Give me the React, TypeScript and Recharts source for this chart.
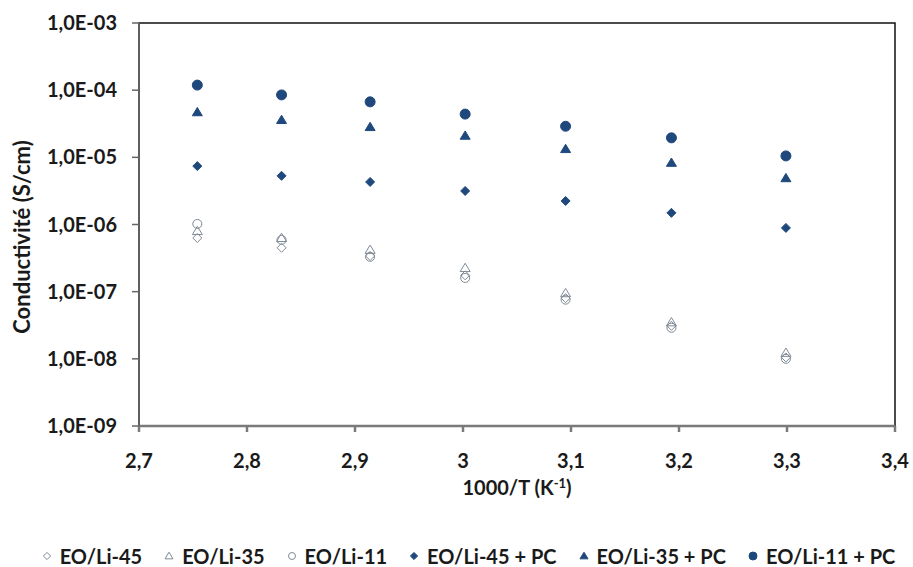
import React from "react";
import { ScatterChart, Scatter, XAxis, YAxis, Legend, ReferenceArea, Label } from "recharts";

const xValues = [2.754, 2.832, 2.914, 3.002, 3.095, 3.193, 3.299];
const eoLi45 = [6.3e-7, 4.5e-7, 3.4e-7, 1.75e-7, 8.0e-8, 3.1e-8, 1.05e-8];
const eoLi35 = [8.0e-7, 6.3e-7, 4.2e-7, 2.25e-7, 9.5e-8, 3.5e-8, 1.23e-8];
const eoLi11 = [1.02e-6, 5.9e-7, 3.3e-7, 1.6e-7, 7.6e-8, 2.9e-8, 1.0e-8];
const eoLi45PC = [7.4e-6, 5.3e-6, 4.3e-6, 3.16e-6, 2.24e-6, 1.49e-6, 8.9e-7];
const eoLi35PC = [4.7e-5, 3.6e-5, 2.83e-5, 2.1e-5, 1.33e-5, 8.3e-6, 4.9e-6];
const eoLi11PC = [1.19e-4, 8.5e-5, 6.7e-5, 4.4e-5, 2.9e-5, 1.95e-5, 1.05e-5];

const xTicks = [2.7, 2.8, 2.9, 3.0, 3.1, 3.2, 3.3, 3.4];
const xTickLabels = ["2,7", "2,8", "2,9", "3", "3,1", "3,2", "3,3", "3,4"];
const yTicks = [1e-9, 1e-8, 1e-7, 1e-6, 1e-5, 1e-4, 1e-3];
const yTickLabels = ["1,0E-09", "1,0E-08", "1,0E-07", "1,0E-06", "1,0E-05", "1,0E-04", "1,0E-03"];

const NAVY = "#1F497D";
const GRAY = "#7F8A96";
const TEXT = "#1a1a1a";
const FONT = "Lato, 'Liberation Sans', sans-serif";

const toData = (ys: number[]) => xValues.map((x, i) => ({ x, y: ys[i] }));

const series = [
  { name: "EO/Li-45", data: eoLi45, shape: "diamond", filled: false },
  { name: "EO/Li-35", data: eoLi35, shape: "triangle", filled: false },
  { name: "EO/Li-11", data: eoLi11, shape: "circle", filled: false },
  { name: "EO/Li-45 + PC", data: eoLi45PC, shape: "diamond", filled: true },
  { name: "EO/Li-35 + PC", data: eoLi35PC, shape: "triangle", filled: true },
  { name: "EO/Li-11 + PC", data: eoLi11PC, shape: "circle", filled: true },
];

const markerEl = (shape: string, filled: boolean, cx: number, cy: number, s: number) => {
  const fill = filled ? NAVY : "#fff";
  const stroke = filled ? NAVY : GRAY;
  if (shape === "circle")
    return <circle cx={cx} cy={cy} r={filled ? s : s - 0.5} fill={fill} fillOpacity={filled ? 1 : 0} stroke={stroke} strokeWidth={1} />;
  if (shape === "triangle") {
    const h = s * 0.95;
    return (
      <polygon
        points={`${cx},${cy - h} ${cx + s},${cy + h * 0.75} ${cx - s},${cy + h * 0.75}`}
        fill={fill}
        fillOpacity={filled ? 1 : 0}
        stroke={stroke}
        strokeWidth={1}
      />
    );
  }
  const d = s * 0.9;
  return (
    <polygon
      points={`${cx},${cy - d} ${cx + d},${cy} ${cx},${cy + d} ${cx - d},${cy}`}
      fill={fill}
      fillOpacity={filled ? 1 : 0}
      stroke={stroke}
      strokeWidth={1}
    />
  );
};

const makeShape = (shape: string, filled: boolean) => (props: any) => {
  const { cx, cy } = props;
  if (cx == null || cy == null) return <g />;
  return markerEl(shape, filled, cx, cy, 5);
};

const LegendContent = () => (
  <div
    style={{
      display: "flex",
      flexWrap: "nowrap",
      justifyContent: "center",
      alignItems: "center",
      fontFamily: FONT,
      fontWeight: 700,
      fontSize: 20,
      lineHeight: "22px",
      color: TEXT,
      gap: 22,
      paddingLeft: 24,
      whiteSpace: "nowrap",
    }}
  >
    {series.map((s) => (
      <div key={s.name} style={{ display: "flex", alignItems: "center", flexShrink: 0 }}>
        <svg width={10} height={10} style={{ marginRight: 8 }}>
          {markerEl(s.shape, s.filled, 5, 5, 4)}
        </svg>
        <span>{s.name}</span>
      </div>
    ))}
  </div>
);

const XTitle = (props: any) => {
  const vb = props.viewBox || {};
  return (
    <text
      x={vb.x + vb.width / 2}
      y={vb.y + 69}
      textAnchor="middle"
      fill={TEXT}
      fontFamily={FONT}
      fontWeight={700}
      fontSize={20}
    >
      1000/T (K<tspan dy={-7} fontSize={13}>-1</tspan>
      <tspan dy={7}>)</tspan>
    </text>
  );
};

const YTitle = () => (
  <text
    x={0}
    y={0}
    transform="translate(30, 237) rotate(-90)"
    textAnchor="middle"
    fill={TEXT}
    fontFamily={FONT}
    fontWeight={700}
    fontSize={22}
  >
    Conductivité (S/cm)
  </text>
);

export default function App() {
  return (
    <div style={{ position: "absolute", left: 0, top: 0, width: 913, height: 567, background: "#fff" }}>
      <ScatterChart width={913} height={567} margin={{ top: 23, right: 18, bottom: 0, left: 0 }}>
        <ReferenceArea
          x1={2.7}
          x2={3.4}
          y1={1e-9}
          y2={1e-3}
          fill="none"
          stroke="#111"
          strokeWidth={1.5}
          ifOverflow="visible"
        />
        <XAxis
          type="number"
          dataKey="x"
          domain={[2.7, 3.4]}
          ticks={xTicks}
          allowDataOverflow
          height={119}
          tickSize={6}
          tickMargin={22}
          stroke="#7a7a7a"
          strokeWidth={2.5}
          tick={{ fill: TEXT, fontFamily: FONT, fontWeight: 700, fontSize: 20 }}
          tickFormatter={(v: number) => xTickLabels[xTicks.findIndex((t) => Math.abs(t - v) < 1e-6)] ?? ""}
        >
          <Label content={<XTitle />} />
        </XAxis>
        <YAxis
          type="number"
          dataKey="y"
          scale="log"
          domain={[1e-9, 1e-3]}
          ticks={yTicks}
          allowDataOverflow
          width={139}
          tickSize={7}
          tickMargin={15}
          stroke="#666"
          strokeWidth={1.5}
          tick={{ fill: TEXT, fontFamily: FONT, fontWeight: 700, fontSize: 20 }}
          tickFormatter={(v: number) => yTickLabels[yTicks.findIndex((t) => Math.abs(Math.log10(t) - Math.log10(v)) < 1e-6)] ?? ""}
        >
          <Label content={<YTitle />} />
        </YAxis>
        <Legend
          verticalAlign="bottom"
          height={22}
          wrapperStyle={{ left: 0, width: 913 }}
          content={<LegendContent />}
        />
        {series.map((s) => (
          <Scatter
            key={s.name}
            name={s.name}
            data={toData(s.data)}
            shape={makeShape(s.shape, s.filled)}
            isAnimationActive={false}
          />
        ))}
      </ScatterChart>
    </div>
  );
}
